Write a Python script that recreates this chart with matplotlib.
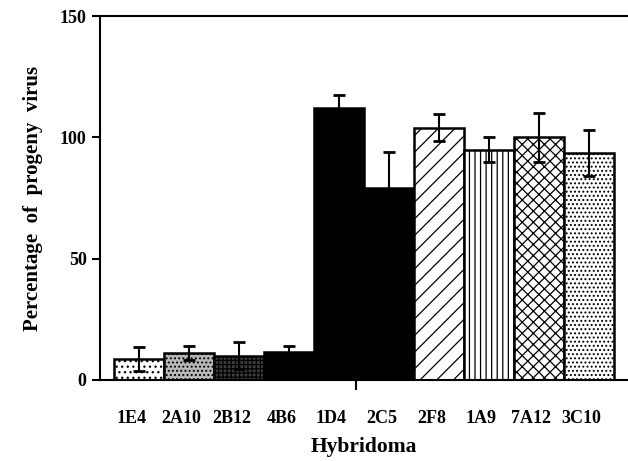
import matplotlib
matplotlib.use('Agg')
import matplotlib.pyplot as plt
import numpy as np

# datos
hibridomas = ['1E4', '2A10', '2B12', '4B6', '1D4', '2C5', '2F8', '1A9', '7A12', '3C10']
porcentaje = [8.5, 11, 10, 11.5, 112, 79, 104, 95, 100, 93.5]
error = [5, 3, 5.5, 2.5, 5.5, 15, 5.5, 5, 10, 9.5]

# estilos de cada barra
colores = ['white', '#b8b8b8', '#3c3c3c', 'black', 'black', 'black', 'white', 'white', 'white', 'white']
tramas = ['...', '....', '++++', '', '', '', '//', '|||', 'xxx', '....']

plt.rcParams['font.family'] = ['Liberation Serif', 'DejaVu Serif']
plt.rcParams['font.weight'] = 'bold'
plt.rcParams['hatch.linewidth'] = 0.9

fig = plt.figure(figsize=(6.28, 4.61), dpi=100)
ax = fig.add_axes([0.159, 0.176, 0.841, 0.789])

x = np.arange(len(hibridomas))
for i in x:
    ax.bar(i, porcentaje[i], width=1.0, color=colores[i], hatch=tramas[i],
           edgecolor='black', linewidth=1.8, zorder=2)
ax.errorbar(x, porcentaje, yerr=error, fmt='none', ecolor='black',
            elinewidth=1.5, capsize=4, capthick=2.0, zorder=3)

ax.set_xlim(-0.78, 9.78)
ax.set_ylim(0, 150)
ax.set_yticks([0, 50, 100, 150])
ax.set_xticks(x - 0.15)
ax.set_xticklabels(hibridomas)
ax.set_xticks([4.35], minor=True)
ax.tick_params(axis='x', which='major', length=0, pad=22, labelsize=13)
ax.tick_params(axis='x', which='minor', length=7, width=1.5, direction='out')
ax.tick_params(axis='y', length=6, width=1.5, labelsize=13)
for lab in ax.get_xticklabels() + ax.get_yticklabels():
    lab.set_fontweight('bold')

ax.spines['right'].set_visible(False)
for s in ['left', 'bottom', 'top']:
    ax.spines[s].set_linewidth(1.5)

ax.set_xlabel('Hybridoma', fontsize=15.5, fontweight='bold', labelpad=7)
ax.set_ylabel('Percentage  of  progeny  virus', fontsize=15, fontweight='bold', labelpad=12)

fig.savefig('out.png', dpi=100)
